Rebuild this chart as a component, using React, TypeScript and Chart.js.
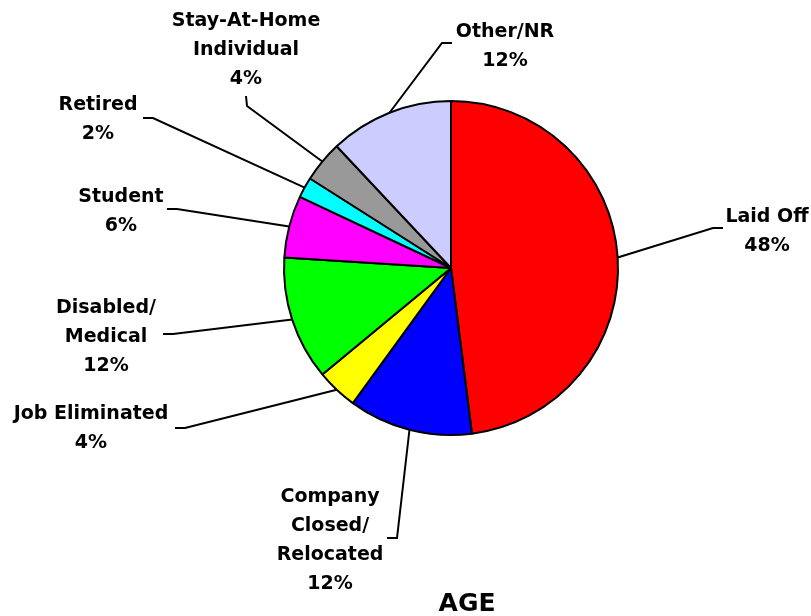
import React, { useEffect, useRef } from "react";
import { Chart, registerables } from "chart.js";

Chart.register(...registerables);

const categories = [
  "Laid Off",
  "Company Closed/ Relocated",
  "Job Eliminated",
  "Disabled/ Medical",
  "Student",
  "Retired",
  "Stay-At-Home Individual",
  "Other/NR",
];
const values = [48, 12, 4, 12, 6, 2, 4, 12];
const labelLines = [
  ["Laid Off", "48%"],
  ["Company", "Closed/", "Relocated", "12%"],
  ["Job Eliminated", "4%"],
  ["Disabled/", "Medical", "12%"],
  ["Student", "6%"],
  ["Retired", "2%"],
  ["Stay-At-Home", "Individual", "4%"],
  ["Other/NR", "12%"],
];
const colors = ["#FF0000", "#0000FF", "#FFFF00", "#00FF00", "#FF00FF", "#00FFFF", "#999999", "#CCCCFF"];
const titleText = "AGE";

// layout: elbow point, end point of leader, text center x, first baseline y
const labelLayout = [
  { elbow: [713, 228], end: [723, 228], tx: 767, ty: 222 },
  { elbow: [397, 538], end: [387, 538], tx: 330, ty: 502 },
  { elbow: [185, 428], end: [175, 428], tx: 91, ty: 419 },
  { elbow: [173, 334], end: [163, 334], tx: 106, ty: 313 },
  { elbow: [177, 209], end: [167, 209], tx: 121, ty: 202 },
  { elbow: [153, 118], end: [143, 118], tx: 98, ty: 110 },
  { elbow: [247, 106], end: [246, 96], tx: 246, ty: 26 },
  { elbow: [442, 43], end: [452, 43], tx: 505, ty: 37 },
];
const lineGap = 29;

const labelPlugin = {
  id: "pieLabels",
  afterDraw(chart: any) {
    const ctx = chart.ctx;
    const meta = chart.getDatasetMeta(0);
    ctx.save();
    ctx.strokeStyle = "#000";
    ctx.lineWidth = 2;
    ctx.fillStyle = "#000";
    ctx.font = "bold 19px 'DejaVu Sans'";
    ctx.textAlign = "center";
    ctx.textBaseline = "alphabetic";
    meta.data.forEach((arc: any, i: number) => {
      const p = arc.getProps(["x", "y", "startAngle", "endAngle", "outerRadius"], true);
      const mid = (p.startAngle + p.endAngle) / 2;
      const ax = p.x + Math.cos(mid) * p.outerRadius;
      const ay = p.y + Math.sin(mid) * p.outerRadius;
      const L = labelLayout[i];
      ctx.beginPath();
      ctx.moveTo(ax, ay);
      ctx.lineTo(L.elbow[0], L.elbow[1]);
      ctx.lineTo(L.end[0], L.end[1]);
      ctx.stroke();
      labelLines[i].forEach((t, k) => {
        ctx.fillText(t, L.tx, L.ty + k * lineGap);
      });
    });
    ctx.font = "bold 25px 'DejaVu Sans'";
    ctx.fillText(titleText, 467, 611);
    ctx.restore();
  },
};

export default function App() {
  const ref = useRef<HTMLCanvasElement>(null);
  useEffect(() => {
    const chart = new Chart(ref.current!, {
      type: "pie",
      data: {
        labels: categories,
        datasets: [
          {
            data: values,
            backgroundColor: colors,
            borderColor: "#000",
            borderWidth: 2,
          },
        ],
      },
      options: {
        animation: false,
        responsive: false,
        layout: { padding: { left: 283, right: 192, top: 100, bottom: 180 } },
        plugins: { legend: { display: false }, tooltip: { enabled: false }, title: { display: false } },
      },
      plugins: [labelPlugin],
    });
    return () => chart.destroy();
  }, []);
  return (
    <div style={{ position: "fixed", left: 0, top: 0, width: 811, height: 616, background: "#fff" }}>
      <canvas ref={ref} width={811} height={616} />
    </div>
  );
}
